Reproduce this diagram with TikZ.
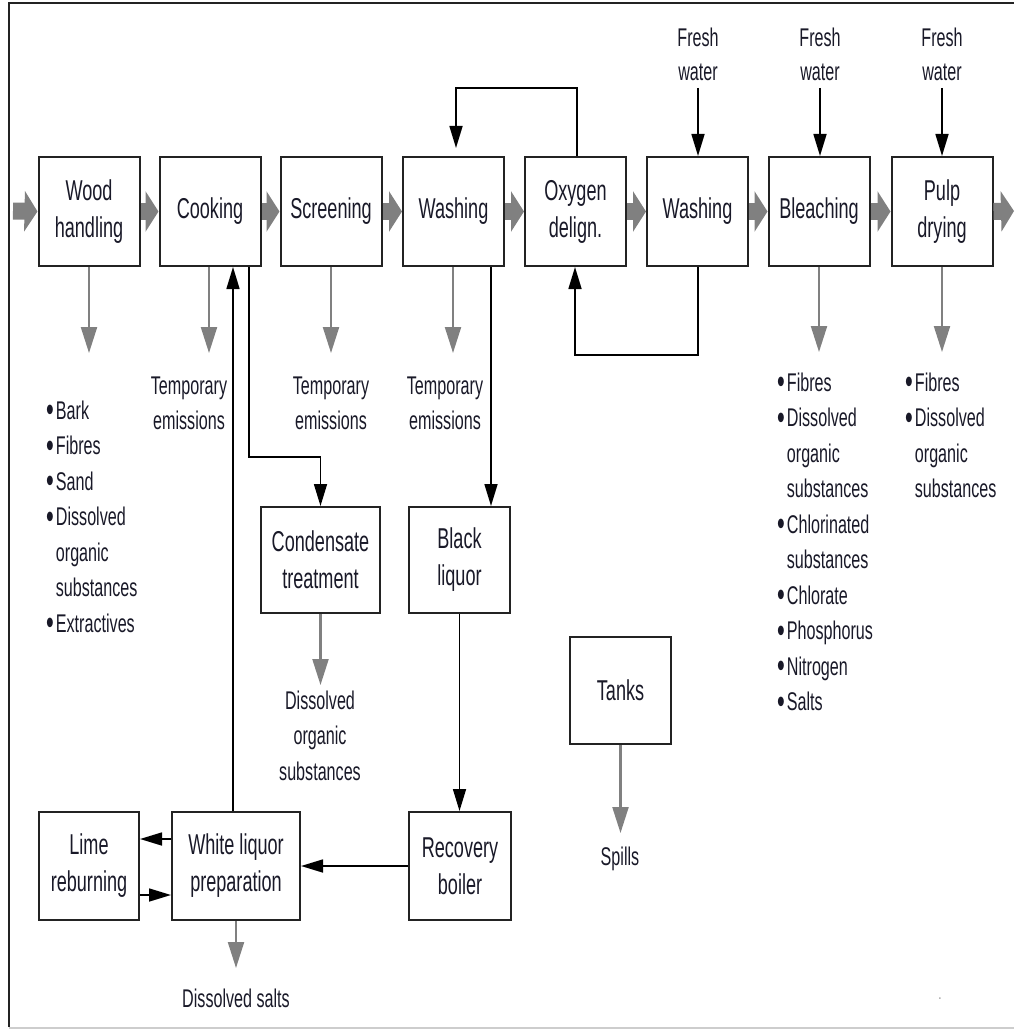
\documentclass[tikz,border=0pt]{standalone}
\usepackage{fontspec}
\setmainfont{Liberation Sans}[FakeStretch=0.63]
\usetikzlibrary{arrows.meta}

\definecolor{boxline}{RGB}{35,35,35}
\definecolor{flowgrey}{RGB}{128,128,128}
\definecolor{txt}{RGB}{25,25,40}
\definecolor{edgegrey}{RGB}{205,205,205}

\newcommand\boxfont{\fontsize{28.7}{37}\selectfont}
\newcommand\notefont{\fontsize{25.6}{35.5}\selectfont}
\newcommand\bl{\raisebox{-2.5pt}{\fontsize{35}{35}\selectfont\textbullet}}

\begin{document}
\begin{tikzpicture}[x=1pt,y=-1pt,
  box/.style={draw=boxline, line width=2pt, fill=white, inner sep=0pt,
    minimum width=101pt, minimum height=109pt, align=center,
    font=\boxfont, text=txt},
  note/.style={inner sep=0pt, font=\notefont, text=txt, anchor=base},
  list/.style={inner sep=0pt, font=\notefont, text=txt, anchor=base west},
  blk/.style={draw=black, line width=1.6pt, -{Triangle[length=22pt,width=13pt]}},
  emis/.style={draw=flowgrey, line width=2.2pt, -{Triangle[length=26pt,width=16pt]}},
  main/.style={draw=flowgrey, line width=17pt, -{Triangle[length=13pt,width=40pt]}},
]
\useasboundingbox (0,0) rectangle (1014,1030);

% frame
\draw[boxline, line width=2pt] (9,1027) -- (9,3) -- (1014,3);
\draw[edgegrey, line width=2pt] (9,1027.5) -- (1014,1027.5);

% main process line
\node[box] (wood)   at (89,211.5)    {Wood\\handling};
\node[box] (cook)   at (210,211.5)   {Cooking};
\node[box] (screen) at (331,211.5)   {Screening};
\node[box] (wash1)  at (453.5,211.5) {Washing};
\node[box] (oxy)    at (575.5,211.5) {Oxygen\\delign.};
\node[box] (wash2)  at (697.5,211.5) {Washing};
\node[box] (bleach) at (819,211.5)   {Bleaching};
\node[box] (pulp)   at (942,211.5)   {Pulp\\drying};

% chemical recovery and side units
\node[box, minimum width=119pt, minimum height=106pt] (cond)  at (320.5,560) {Condensate\\treatment};
\node[box, minimum height=106pt] (black) at (459.5,560) {Black\\liquor};
\node[box, minimum height=107pt] (tanks) at (620.5,690.5) {Tanks};
\node[box, minimum width=100pt, minimum height=108pt] (lime)  at (89,866)  {Lime\\reburning};
\node[box, minimum width=128pt, minimum height=108pt] (white) at (236,866) {White liquor\\preparation};
\node[box, minimum width=102pt, minimum height=108pt] (recov) at (460,866) {Recovery\\boiler};

% fibre flow
\coordinate (in)  at (13,211);
\coordinate (out) at (1014,211);
\draw[main] (in) -- (wood.west);
\draw[main] (wood.east) -- (cook.west);
\draw[main] (cook.east) -- (screen.west);
\draw[main] (screen.east) -- (wash1.west);
\draw[main] (wash1.east) -- (oxy.west);
\draw[main] (oxy.east) -- (wash2.west);
\draw[main] (wash2.east) -- (bleach.west);
\draw[main] (bleach.east) -- (pulp.west);
\draw[main] (pulp.east) -- (out);

% fresh water inlets
\node[note] (fw1) at (698,47) {\begin{tabular}[t]{@{}c@{}}Fresh\\[-1.5pt]water\end{tabular}};
\node[note] (fw2) at (820,47) {\begin{tabular}[t]{@{}c@{}}Fresh\\[-1.5pt]water\end{tabular}};
\node[note] (fw3) at (942,47) {\begin{tabular}[t]{@{}c@{}}Fresh\\[-1.5pt]water\end{tabular}};
\draw[blk] ([yshift=4pt]fw1.south) -- ([xshift=0.5pt]wash2.north);
\draw[blk] ([yshift=4pt]fw2.south) -- ([xshift=1pt]bleach.north);
\draw[blk] ([yshift=4pt]fw3.south) -- (pulp.north);

% filtrate loops around oxygen delignification
\draw[blk, shorten >=8pt] ([xshift=1.5pt]oxy.north) -- ++(0,-68) -| ([xshift=2.5pt]wash1.north);
\draw[blk] ([xshift=0.5pt]wash2.south) -- ++(0,88) -| ([xshift=-0.5pt]oxy.south);

% liquor circuit
\draw[blk] ([xshift=39pt]cook.south) -- ++(0,190) -| (cond.north);
\draw[blk] ([xshift=37.5pt]wash1.south) -- ([xshift=31.5pt]black.north);
\draw[blk] (black.south) -- ([xshift=-0.5pt]recov.north);
\draw[blk] (recov.west) -- (white.east);
\draw[blk] ([yshift=27pt]white.west) -- ([yshift=27pt]lime.east);
\draw[blk] ([yshift=-29pt]lime.east) -- ([yshift=-29pt]white.west);
\draw[blk] ([xshift=-3pt]white.north) -- ([xshift=23pt]cook.south);

% emissions
\coordinate (woodE)   at (89,353);
\coordinate (cookE)   at (209,353);
\coordinate (screenE) at (331,353);
\coordinate (washE)   at (453,353);
\coordinate (bleachE) at (819,352);
\coordinate (pulpE)   at (942,352);
\coordinate (condE)   at (320.5,685);
\coordinate (tanksE)  at (620.5,833);
\coordinate (whiteE)  at (236,968);
\draw[emis] (wood.south) -- (woodE);
\draw[emis] ([xshift=-1pt]cook.south) -- (cookE);
\draw[emis] (screen.south) -- (screenE);
\draw[emis] ([xshift=-0.5pt]wash1.south) -- (washE);
\draw[emis] (bleach.south) -- (bleachE);
\draw[emis] (pulp.south) -- (pulpE);
\draw[emis] (cond.south) -- (condE);
\draw[emis] (tanks.south) -- (tanksE);
\draw[emis] (white.south) -- (whiteE);

% emission labels
\node[list] (woodL) at (46,419) {\begin{tabular}[t]{@{}l@{\hspace{2pt}}l@{}}
  \bl & Bark\\ \bl & Fibres\\ \bl & Sand\\ \bl & Dissolved\\ & organic\\
  & substances\\ \bl & Extractives\end{tabular}};
\node[note] (cookL)   at (189,394) {\begin{tabular}[t]{@{}c@{}}Temporary\\emissions\end{tabular}};
\node[note] (screenL) at (331,394) {\begin{tabular}[t]{@{}c@{}}Temporary\\emissions\end{tabular}};
\node[note] (washL)   at (445,394) {\begin{tabular}[t]{@{}c@{}}Temporary\\emissions\end{tabular}};
\node[list] (bleachL) at (777,391) {\begin{tabular}[t]{@{}l@{\hspace{2pt}}l@{}}
  \bl & Fibres\\ \bl & Dissolved\\ & organic\\ & substances\\
  \bl & Chlorinated\\ & substances\\ \bl & Chlorate\\ \bl & Phosphorus\\
  \bl & Nitrogen\\ \bl & Salts\end{tabular}};
\node[list] (pulpL) at (905,391) {\begin{tabular}[t]{@{}l@{\hspace{2pt}}l@{}}
  \bl & Fibres\\ \bl & Dissolved\\ & organic\\ & substances\end{tabular}};
\node[note] (condL)  at (320,709) {\begin{tabular}[t]{@{}c@{}}Dissolved\\organic\\substances\end{tabular}};
\node[note] (tanksL) at (620,865) {Spills};
\node[note] (whiteL) at (236,1007) {Dissolved salts};
\node[note, text=flowgrey, font=\fontsize{16}{16}\selectfont] (mark) at (940,999) {.};
\end{tikzpicture}
\end{document}
